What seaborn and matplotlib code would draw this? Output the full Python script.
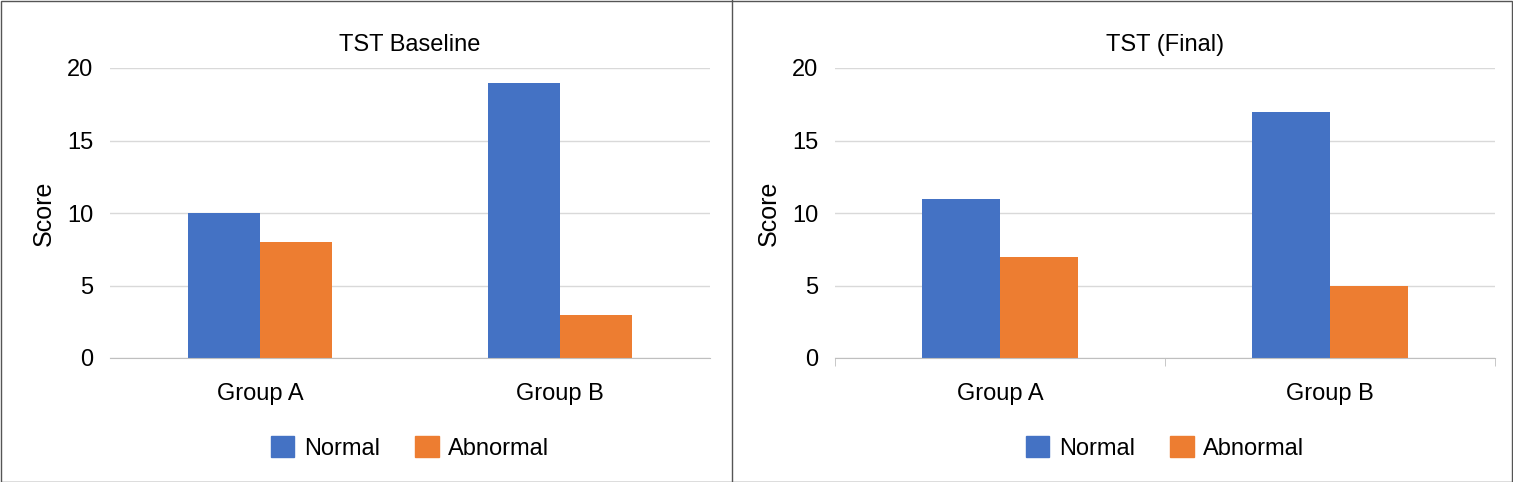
import pandas as pd
import seaborn as sns
import matplotlib.pyplot as plt
from matplotlib.lines import Line2D
from matplotlib.patches import Rectangle

groups = ['Group A', 'Group B']
status = ['Normal', 'Abnormal']
baseline_normal = [10, 19]
baseline_abnormal = [8, 3]
final_normal = [11, 17]
final_abnormal = [7, 5]

palette = {'Normal': '#4472C4', 'Abnormal': '#ED7D31'}
plt.rcParams['font.family'] = 'Liberation Sans'

def make_df(normal, abnormal):
    rows = []
    for g, n, a in zip(groups, normal, abnormal):
        rows.append({'group': g, 'status': 'Normal', 'score': n})
        rows.append({'group': g, 'status': 'Abnormal', 'score': a})
    return pd.DataFrame(rows)

W, H = 1513, 482
fig = plt.figure(figsize=(W / 100, H / 100), dpi=100)

panels = [
    ('TST Baseline', baseline_normal, baseline_abnormal, [110, 124, 600, 290], 0.48, False),
    ('TST (Final)', final_normal, final_abnormal, [835, 124, 660, 290], 0.47, True),
]

for title, normal, abnormal, box, width, ticks in panels:
    ax = fig.add_axes([box[0] / W, box[1] / H, box[2] / W, box[3] / H])
    sns.barplot(data=make_df(normal, abnormal), x='group', y='score', hue='status',
                hue_order=status, palette=palette, width=width, saturation=1,
                ax=ax, legend=False)
    ax.set_ylim(0, 20)
    ax.set_yticks([0, 5, 10, 15, 20])
    ax.set_xlim(-0.5, 1.5)
    ax.grid(axis='y', color='#d9d9d9', linewidth=1)
    ax.set_axisbelow(True)
    for s in ['top', 'right', 'left']:
        ax.spines[s].set_visible(False)
    ax.spines['bottom'].set_color('#bfbfbf')
    ax.tick_params(axis='y', length=0, labelsize=17, pad=12)
    ax.tick_params(axis='x', length=0, labelsize=17, pad=18)
    if ticks:
        ax.set_xticks([-0.5, 0.5, 1.5], minor=True)
        ax.tick_params(axis='x', which='minor', length=6, color='#bfbfbf')
    ax.set_xlabel('')
    ax.set_ylabel('Score', fontsize=18, labelpad=8)
    ax.set_title(title, fontsize=17, pad=12)
    handles = [Rectangle((0, 0), 1, 1, color=palette[s]) for s in status]
    ax.legend(handles, status, loc='center', bbox_to_anchor=(0.5, -0.31), ncol=2,
              frameon=False, fontsize=17, handlelength=1.0, handleheight=1.0,
              columnspacing=1.5, handletextpad=0.4)

fig.add_artist(Rectangle((0.5 / W, 0.5 / H), (W - 1.5) / W, (H - 1.5) / H,
                         transform=fig.transFigure, fill=False, edgecolor='#555555', linewidth=1))
fig.add_artist(Line2D([732 / W, 732 / W], [0, 1], transform=fig.transFigure,
                      color='#555555', linewidth=1))

fig.savefig('out.png', dpi=100)
